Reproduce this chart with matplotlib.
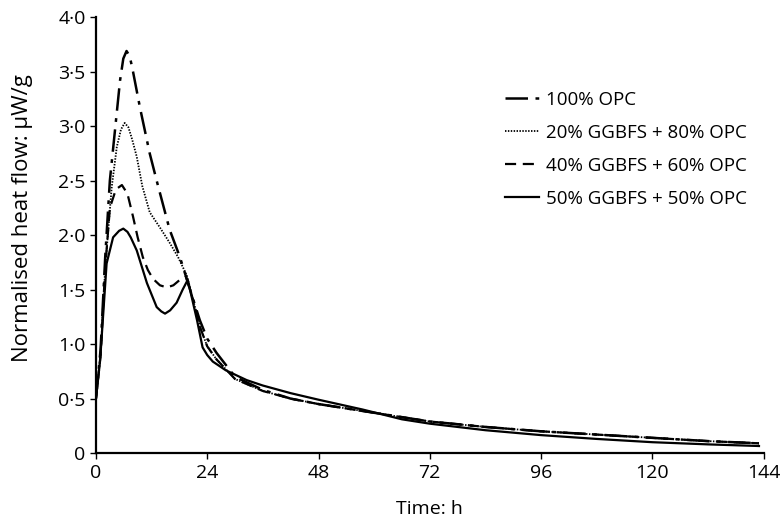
"""
Heat flow of OPC / GGBFS blends (isothermal calorimetry)
"""

import matplotlib.pyplot as plt

# ---------------------------------
# Data
# ---------------------------------

t_opc = [0, 1, 2, 3, 4.1, 5.2, 5.9, 6.6, 7.3, 8, 9.5, 10.6, 11.6, 13.1, 15.9,
         18.1, 20.3, 22.4, 24, 26, 30, 36, 42, 48, 60, 72, 84, 96, 108, 120,
         132, 143]
q_opc = [0.5, 0.95, 1.8, 2.5, 2.96, 3.42, 3.62, 3.69, 3.64, 3.5, 3.17, 2.95,
         2.75, 2.5, 2.05, 1.80, 1.50, 1.22, 1.05, 0.92, 0.70, 0.58, 0.50, 0.45,
         0.37, 0.29, 0.24, 0.20, 0.17, 0.14, 0.11, 0.09]

t_g20 = [0, 1, 2, 3.4, 4.5, 5.4, 6.2, 7, 7.8, 8.8, 10, 11.6, 13.8, 15.9, 17.7,
         19.6, 21, 22.5, 24, 26, 30, 36, 42, 48, 60, 72, 84, 96, 108, 120,
         132, 143]
q_g20 = [0.5, 0.9, 1.7, 2.44, 2.81, 2.97, 3.03, 2.99, 2.88, 2.72, 2.45, 2.21,
         2.07, 1.93, 1.80, 1.63, 1.40, 1.15, 0.98, 0.86, 0.68, 0.57, 0.50, 0.45,
         0.37, 0.29, 0.24, 0.20, 0.17, 0.14, 0.11, 0.09]

t_g40 = [0, 1, 2, 3, 4.3, 5.6, 6.8, 8, 9, 10.1, 11.2, 12.3, 13.8, 15.3, 16.7,
         18.1, 19.4, 21, 22.5, 24, 26, 30, 36, 42, 48, 60, 72, 84, 96, 108,
         120, 132, 143]
q_g40 = [0.5, 0.9, 1.7, 2.25, 2.42, 2.46, 2.38, 2.17, 1.98, 1.80, 1.68, 1.60,
         1.54, 1.52, 1.54, 1.59, 1.62, 1.40, 1.15, 0.98, 0.86, 0.68, 0.57, 0.50,
         0.45, 0.37, 0.29, 0.24, 0.20, 0.17, 0.14, 0.11, 0.09]

t_g50 = [0, 0.9, 2.3, 3.7, 5, 5.9, 6.8, 7.5, 8.8, 11, 13.1, 14.1, 14.9, 16,
         17.4, 18.7, 19.8, 21.8, 23, 24, 25.2, 28, 32.5, 36, 42, 48, 57.5, 66,
         72, 84, 96, 108, 120, 132, 143]
q_g50 = [0.5, 0.85, 1.74, 1.98, 2.04, 2.06, 2.03, 1.98, 1.86, 1.56, 1.34, 1.30,
         1.28, 1.31, 1.38, 1.50, 1.59, 1.22, 0.97, 0.90, 0.84, 0.76, 0.67, 0.62,
         0.55, 0.49, 0.40, 0.31, 0.27, 0.21, 0.165, 0.13, 0.10, 0.08, 0.065]

labels = ["100% OPC", "20% GGBFS + 80% OPC",
          "40% GGBFS + 60% OPC", "50% GGBFS + 50% OPC"]

x_ticks = [0, 24, 48, 72, 96, 120, 144]
y_ticks = [0, 0.5, 1.0, 1.5, 2.0, 2.5, 3.0, 3.5, 4.0]
y_tick_labels = ["0", "0·5", "1·0", "1·5", "2·0", "2·5", "3·0", "3·5", "4·0"]

# ---------------------------------
# Plot
# ---------------------------------

plt.rcParams["font.family"] = ["Open Sans", "DejaVu Sans"]

fig = plt.figure(figsize=(7.8, 5.22), dpi=100)
ax = fig.add_axes([0.123, 0.132, 0.856, 0.835])

ax.plot(t_opc, q_opc, color="black", linewidth=1.8,
        linestyle=(0, (9, 3, 1.5, 3)), label=labels[0])
ax.plot(t_g20, q_g20, color="black", linewidth=1.3,
        linestyle=(0, (0.8, 0.8)), label=labels[1])
ax.plot(t_g40, q_g40, color="black", linewidth=1.6,
        linestyle=(0, (5, 3)), label=labels[2])
ax.plot(t_g50, q_g50, color="black", linewidth=1.6,
        linestyle="-", label=labels[3])

ax.set_xlim(0, 144)
ax.set_ylim(0, 4.0)

ax.set_xticks(x_ticks)
ax.set_yticks(y_ticks)
ax.set_yticklabels(y_tick_labels)

ax.tick_params(direction="out", length=4, width=1, labelsize=14, colors="black")

for side in ["top", "right"]:
    ax.spines[side].set_visible(False)
for side in ["left", "bottom"]:
    ax.spines[side].set_linewidth(1.6)

ax.set_xlabel("Time: h", fontsize=14, labelpad=13)
ax.set_ylabel("Normalised heat flow: µW/g", fontsize=16)
ax.yaxis.set_label_coords(-0.094, 0.54)

ax.legend(loc="upper left", bbox_to_anchor=(0.588, 0.87), frameon=False,
          fontsize=13.5, handlelength=1.8, labelspacing=0.8, handletextpad=0.35)

plt.savefig("out.png", dpi=100)
